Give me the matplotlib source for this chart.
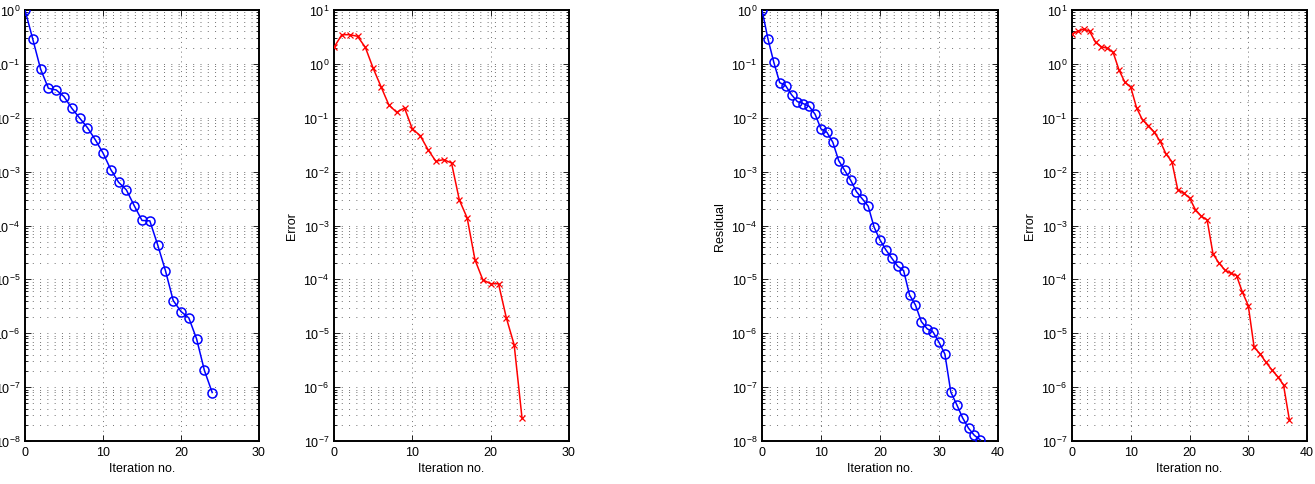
import matplotlib
matplotlib.use("Agg")
import matplotlib.pyplot as plt
from matplotlib.ticker import LogLocator, MultipleLocator, NullFormatter
import numpy as np

plt.rcParams['font.family'] = ['Liberation Sans', 'DejaVu Sans']
plt.rcParams['mathtext.fontset'] = 'custom'
plt.rcParams['mathtext.rm'] = 'Liberation Sans'

# Panel 1: residual, problem A
res_a = [1.0, 0.286, 0.080, 0.0352, 0.0328, 0.0247, 0.0150, 0.0099, 0.00656, 0.00393,
         0.00222, 0.00109, 0.000635, 0.000457, 0.000234, 0.000124, 0.000122, 4.42e-5,
         1.46e-5, 4.05e-6, 2.53e-6, 1.93e-6, 7.87e-7, 2.04e-7, 7.94e-8]
# Panel 2: error, problem A
err_a = [2.03, 3.48, 3.48, 3.25, 2.03, 0.83, 0.378, 0.173, 0.126, 0.152,
         0.062, 0.0466, 0.0256, 0.0156, 0.0167, 0.0145, 0.00298, 0.00138, 0.00023,
         9.8e-5, 8.3e-5, 8.3e-5, 1.93e-5, 6.1e-6, 2.69e-7]
# Panel 3: residual, problem B
res_b = [1.0, 0.294, 0.107, 0.0449, 0.0394, 0.0268, 0.0199, 0.0183, 0.0163, 0.0116,
         0.0062, 0.00537, 0.00351, 0.0016, 0.00106, 0.000701, 0.000426, 0.000312,
         0.000228, 9.3e-5, 5.4e-5, 3.53e-5, 2.47e-5, 1.75e-5, 1.46e-5, 5.16e-6,
         3.36e-6, 1.65e-6, 1.21e-6, 1.05e-6, 6.8e-7, 4.1e-7, 8.1e-8, 4.75e-8,
         2.69e-8, 1.73e-8, 1.27e-8, 1.05e-8]
# Panel 4: error, problem B
err_b = [3.59, 4.03, 4.44, 4.03, 2.51, 2.08, 1.95, 1.64, 0.771, 0.456, 0.368, 0.152,
         0.091, 0.0713, 0.0538, 0.0366, 0.0213, 0.0153, 0.00463, 0.00402, 0.00325,
         0.00197, 0.00149, 0.00127, 0.000297, 0.000202, 0.00015, 0.00013, 0.000118,
         5.8e-5, 3.27e-5, 5.5e-6, 4.15e-6, 2.91e-6, 2.1e-6, 1.57e-6, 1.1e-6, 2.47e-7]

xlabel = "Iteration no."
panels = [
    dict(y=res_a, color=(0, 0, 1), marker='o', ylim=(1e-8, 1e0), xmax=30, ylabel=None,
         rect=[25/1315, 43/485, 234/1315, 431/485]),
    dict(y=err_a, color=(1, 0, 0), marker='x', ylim=(1e-7, 1e1), xmax=30, ylabel="Error",
         rect=[334/1315, 43/485, 235/1315, 431/485]),
    dict(y=res_b, color=(0, 0, 1), marker='o', ylim=(1e-8, 1e0), xmax=40, ylabel="Residual",
         rect=[762/1315, 43/485, 236/1315, 431/485]),
    dict(y=err_b, color=(1, 0, 0), marker='x', ylim=(1e-7, 1e1), xmax=40, ylabel="Error",
         rect=[1072/1315, 43/485, 235/1315, 431/485]),
]

fig = plt.figure(figsize=(13.15, 4.85), dpi=100)
for p in panels:
    ax = fig.add_axes(p['rect'])
    x = np.arange(len(p['y']))
    if p['marker'] == 'o':
        ax.semilogy(x, p['y'], '-', color=p['color'], lw=1.1, marker='o', ms=6.5,
                    mfc='none', mec=p['color'], mew=1.1, zorder=3)
    else:
        ax.semilogy(x, p['y'], '-', color=p['color'], lw=1.1, marker='x', ms=4.5,
                    mec=p['color'], mew=0.9, zorder=3)
    ax.set_ylim(*p['ylim'])
    ax.set_xlim(0, p['xmax'])
    ax.xaxis.set_major_locator(MultipleLocator(10))
    ax.yaxis.set_major_locator(LogLocator(base=10, numticks=20))
    ax.yaxis.set_minor_locator(LogLocator(base=10, subs=np.arange(2, 10), numticks=20))
    ax.yaxis.set_minor_formatter(NullFormatter())
    ax.grid(True, which='major', axis='x', color='#707070', lw=0.7, linestyle=(0, (1, 4)))
    ax.grid(True, which='both', axis='y', color='#707070', lw=0.7, linestyle=(0, (1, 6.5)))
    ax.tick_params(which='both', direction='in', top=True, right=True, labelsize=9,
                   width=0.6)
    ax.tick_params(which='major', length=4)
    ax.tick_params(which='minor', length=2)
    for s in ax.spines.values():
        s.set_linewidth(1.4)
    ax.set_xlabel(xlabel, fontsize=9, labelpad=3)
    if p['ylabel']:
        ax.set_ylabel(p['ylabel'], fontsize=9, labelpad=4)

fig.savefig("out.png", dpi=100)
